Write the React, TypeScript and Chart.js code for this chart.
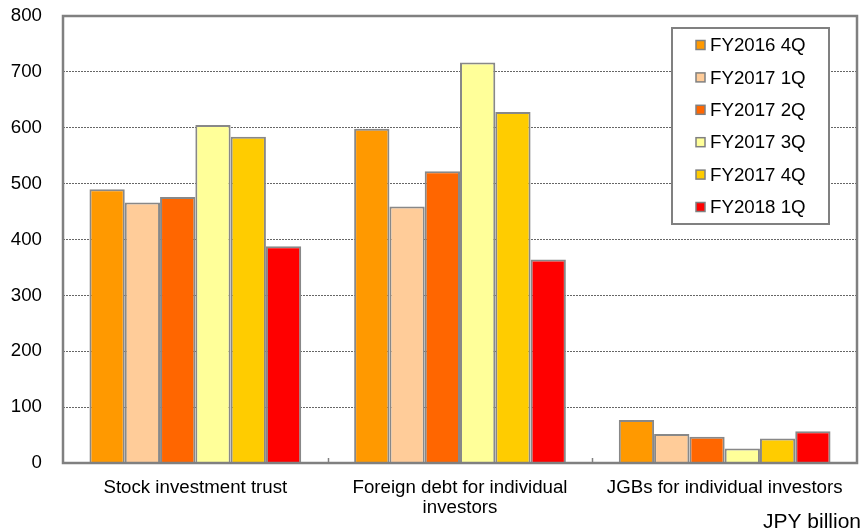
import React, { useEffect, useRef } from "react";
import { Chart, registerables } from "chart.js";

Chart.register(...registerables);

const categories: (string | string[])[] = [
  "Stock investment trust",
  ["Foreign debt for individual", "investors"],
  "JGBs for individual investors",
];

const seriesLabels = ["FY2016 4Q", "FY2017 1Q", "FY2017 2Q", "FY2017 3Q", "FY2017 4Q", "FY2018 1Q"];
const seriesColors = ["#FF9900", "#FFCC99", "#FF6600", "#FFFF99", "#FFCC00", "#FF0000"];

const fy2016q4 = [490, 598, 77];
const fy2017q1 = [466, 459, 52];
const fy2017q2 = [476, 522, 47];
const fy2017q3 = [605, 717, 26];
const fy2017q4 = [584, 628, 44];
const fy2018q1 = [388, 364, 57];

const seriesValues = [fy2016q4, fy2017q1, fy2017q2, fy2017q3, fy2017q4, fy2018q1];

const unitLabel = "JPY billion";
const FONT = "'Liberation Sans', Arial, sans-serif";
const FS = 18.7;

const framePlugin = {
  id: "frame",
  afterDatasetsDraw(chart: any) {
    const { ctx, chartArea } = chart;
    const { left, right, top, bottom } = chartArea;
    ctx.save();
    const xs = chart.scales.x;
    ctx.strokeStyle = "#808080";
    ctx.lineWidth = 1.5;
    const n = categories.length;
    for (let i = 1; i < n; i++) {
      const xPos = (xs.getPixelForValue(i - 1) + xs.getPixelForValue(i)) / 2;
      ctx.beginPath();
      ctx.moveTo(Math.round(xPos) + 0.5, bottom);
      ctx.lineTo(Math.round(xPos) + 0.5, bottom - 5);
      ctx.stroke();
    }
    ctx.strokeStyle = "#808080";
    ctx.lineWidth = 2.5;
    ctx.strokeRect(left, top, right - left, bottom - top);

    const bx = right - 185;
    const by = top + 12;
    const bw = 157;
    const bh = 196;
    ctx.fillStyle = "#ffffff";
    ctx.fillRect(bx, by, bw, bh);
    ctx.lineWidth = 2;
    ctx.strokeStyle = "#808080";
    ctx.strokeRect(bx, by, bw, bh);
    ctx.font = `${FS}px ${FONT}`;
    ctx.textBaseline = "middle";
    ctx.textAlign = "left";
    seriesLabels.forEach((lab, i) => {
      const cy = by + 17 + i * 32.4;
      ctx.fillStyle = seriesColors[i];
      ctx.fillRect(bx + 24, cy - 4.5, 9, 9);
      ctx.lineWidth = 1.5;
      ctx.strokeStyle = "#808080";
      ctx.strokeRect(bx + 24, cy - 4.5, 9, 9);
      ctx.fillStyle = "#000";
      ctx.fillText(lab, bx + 38, cy + 1);
    });

    ctx.textAlign = "right";
    ctx.textBaseline = "alphabetic";
    ctx.fillStyle = "#000";
    ctx.font = `21px ${FONT}`;
    ctx.fillText(unitLabel, 861, 528);
    ctx.restore();
  },
};

export default function App() {
  const ref = useRef<HTMLCanvasElement>(null);
  useEffect(() => {
    if (!ref.current) return;
    const chart = new Chart(ref.current, {
      type: "bar",
      data: {
        labels: categories as any,
        datasets: seriesValues.map((vals, i) => ({
          label: seriesLabels[i],
          data: vals,
          backgroundColor: seriesColors[i],
          borderColor: "#888888",
          borderWidth: 2,
          categoryPercentage: 0.8,
          barPercentage: 1.0,
        })),
      },
      options: {
        responsive: false,
        animation: false,
        devicePixelRatio: 1,
        layout: { padding: { top: 16, right: 5, left: 0, bottom: 0 } },
        plugins: {
          legend: { display: false },
          tooltip: { enabled: false },
          title: { display: false },
        },
        scales: {
          x: {
            grid: { display: false, drawTicks: false },
            border: { display: false },
            ticks: {
              color: "#000",
              font: { family: FONT, size: FS, lineHeight: 1.05 },
              padding: 15,
              maxRotation: 0,
              autoSkip: false,
            },
            afterFit(scale: any) {
              scale.height = 68;
              scale.paddingLeft = 0;
              scale.paddingRight = 0;
            },
          },
          y: {
            min: 0,
            max: 800,
            grid: {
              color: "#666666",
              lineWidth: 1,
              drawTicks: false,
            },
            border: { display: false, dash: [2, 1] },
            ticks: {
              stepSize: 100,
              color: "#000",
              font: { family: FONT, size: FS },
              padding: 21,
            },
            afterFit(scale: any) {
              scale.width = 63;
              scale.paddingTop = 0;
              scale.paddingBottom = 0;
            },
          },
        },
      },
      plugins: [framePlugin],
    });
    return () => chart.destroy();
  }, []);
  return (
    <div style={{ position: "absolute", left: 0, top: 0, width: 862, height: 531, background: "#fff" }}>
      <canvas ref={ref} width={862} height={531} style={{ width: 862, height: 531, display: "block" }} />
    </div>
  );
}
